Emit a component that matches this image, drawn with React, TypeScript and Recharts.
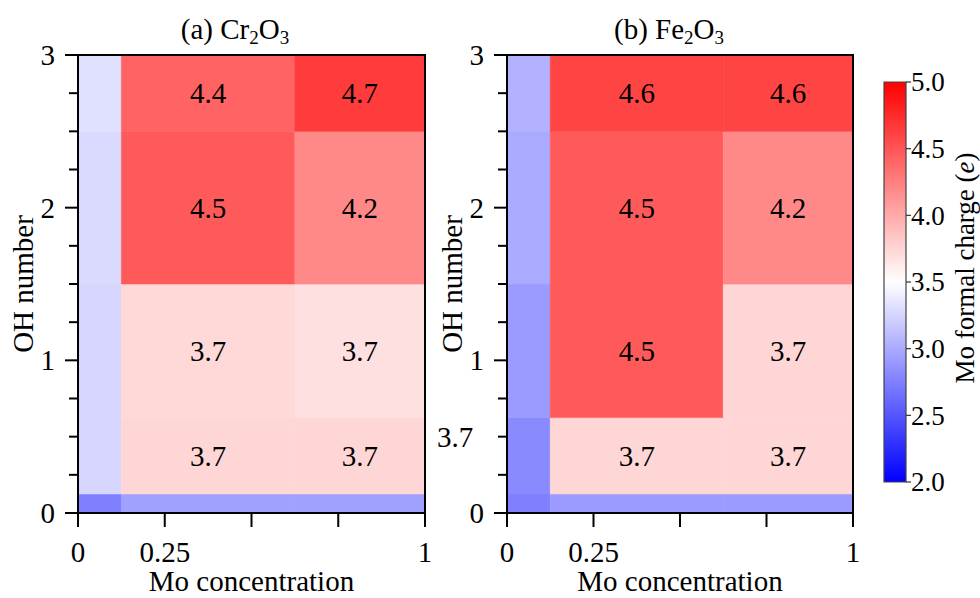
import React from 'react';
import { ComposedChart, XAxis, YAxis, ReferenceArea, ReferenceDot, Scatter, Label } from 'recharts';

const FONT = 'Liberation Serif';
const FS = 29;

// Axes / categories
const moConcentration = [0, 0.25, 1];
const ohNumber = [0, 0.25, 1, 2, 3];
const xTicks = [0, 0.25, 0.5, 0.75, 1];
const xTickLabels = ['0', '0.25', '', '', '1'];
const yTicks = [0, 0.25, 0.5, 0.75, 1, 1.25, 1.5, 1.75, 2, 2.25, 2.5, 2.75, 3];
const yTickLabels = ['0', '', '', '', '1', '', '', '', '2', '', '', '', '3'];

// Mo formal charge, Cr2O3 (one array per OH number, columns follow moConcentration)
const crOH0 = [2.75, 2.94, 2.94];
const crOH025 = [3.26, 3.74, 3.74];
const crOH1 = [3.26, 3.73, 3.68];
const crOH2 = [3.28, 4.47, 4.2];
const crOH3 = [3.32, 4.42, 4.65];

// Mo formal charge, Fe2O3
const feOH0 = [2.75, 2.91, 2.91];
const feOH025 = [2.81, 3.74, 3.74];
const feOH1 = [2.91, 4.47, 3.74];
const feOH2 = [3.0, 4.47, 4.2];
const feOH3 = [3.05, 4.6, 4.6];

// Colour bar
const colorbarTicks = [2, 2.5, 3, 3.5, 4, 4.5, 5];
const colorbarTickLabels = ['2.0', '2.5', '3.0', '3.5', '4.0', '4.5', '5.0'];
const colorMin = 2;
const colorMax = 5;

// Extra annotation in panel (b)
const feExtraLabel = { x: -0.15, y: 0.5, text: '3.7' };

function bwr(v: number): string {
  const t = Math.max(0, Math.min(1, (v - colorMin) / (colorMax - colorMin)));
  let r: number, g: number, b: number;
  if (t < 0.5) {
    r = g = Math.round(255 * t * 2);
    b = 255;
  } else {
    r = 255;
    g = b = Math.round(255 * (1 - t) * 2);
  }
  const h = (n: number) => n.toString(16).padStart(2, '0');
  return `#${h(r)}${h(g)}${h(b)}`;
}

function edges(centers: number[], lo: number, hi: number): number[] {
  const e = [lo];
  for (let i = 0; i < centers.length - 1; i++) e.push((centers[i] + centers[i + 1]) / 2);
  e.push(hi);
  return e;
}

const XTick = (props: any) => {
  const { x, y, payload } = props;
  const idx = xTicks.indexOf(payload.value);
  const text = idx >= 0 ? xTickLabels[idx] : '';
  return (
    <g>
      <line x1={x} x2={x} y1={y} y2={y + 14} stroke="#000" strokeWidth={2} />
      {text ? (
        <text x={x} y={y + 49} textAnchor="middle" fontSize={FS} fontFamily={FONT} fill="#000">
          {text}
        </text>
      ) : null}
    </g>
  );
};

const YTick = (props: any) => {
  const { x, y, payload } = props;
  const idx = yTicks.indexOf(payload.value);
  const text = idx >= 0 ? yTickLabels[idx] : '';
  const major = Number.isInteger(payload.value);
  return (
    <g>
      <line x1={x - (major ? 13 : 9)} x2={x} y1={y} y2={y} stroke="#000" strokeWidth={2} />
      {text ? (
        <text x={x - 23} y={y} dy="0.34em" textAnchor="end" fontSize={FS} fontFamily={FONT} fill="#000">
          {text}
        </text>
      ) : null}
    </g>
  );
};

const CbTick = (props: any) => {
  const { x, y, payload } = props;
  const idx = colorbarTicks.indexOf(payload.value);
  const text = idx >= 0 ? colorbarTickLabels[idx] : '';
  return (
    <g>
      <line x1={x} x2={x + 5} y1={y} y2={y} stroke="#333" strokeWidth={1.2} />
      <text x={x + 5} y={y} dy="0.34em" textAnchor="start" fontSize={27} fontFamily={FONT} fill="#000">
        {text}
      </text>
    </g>
  );
};

const XTitle = (props: any) => {
  const vb = props.viewBox || {};
  const cx = vb.x + vb.width / 2;
  return (
    <text x={cx} y={vb.y + 78} textAnchor="middle" fontSize={FS} fontFamily={FONT} fill="#000">
      Mo concentration
    </text>
  );
};

const YTitle = (props: any) => {
  const vb = props.viewBox || {};
  const x = vb.x + vb.width - 45;
  const cy = vb.y + vb.height / 2;
  return (
    <text x={x} y={cy} transform={`rotate(-90, ${x}, ${cy})`} textAnchor="middle" fontSize={FS} fontFamily={FONT} fill="#000">
      OH number
    </text>
  );
};

const CbTitle = (props: any) => {
  const vb = props.viewBox || {};
  const x = vb.x + 68;
  const cy = vb.y + vb.height / 2 - 14;
  return (
    <text x={x} y={cy} transform={`rotate(-90, ${x}, ${cy})`} textAnchor="middle" fontSize={27} fontFamily={FONT} fill="#000">
      Mo formal charge (<tspan fontStyle="italic">e</tspan>)
    </text>
  );
};

type PanelProps = {
  rows: number[][];
  left: number;
  marginLeft: number;
  marginRight: number;
  extra?: { x: number; y: number; text: string };
};

function Panel({ rows, left, marginLeft, marginRight, extra }: PanelProps) {
  const xe = edges(moConcentration, 0, 1);
  const ye = edges(ohNumber, 0, 3);
  const cells: any[] = [];
  const points: any[] = [];
  rows.forEach((row, i) =>
    row.forEach((v, j) => {
      cells.push({
        key: `${i}-${j}`,
        x1: xe[j],
        x2: xe[j + 1],
        y1: ye[i],
        y2: ye[i + 1],
        fill: bwr(v),
        label: i > 0 && j > 0 ? v.toFixed(1) : null,
      });
      points.push({ x: moConcentration[j], y: ohNumber[i] });
    })
  );
  return (
    <div style={{ position: 'absolute', left, top: 0 }}>
      <ComposedChart
        width={440}
        height={598}
        margin={{ top: 55, right: marginRight, bottom: 40, left: marginLeft }}
        data={points}
      >
        <XAxis
          type="number"
          dataKey="x"
          domain={[0, 1]}
          ticks={xTicks}
          interval={0}
          tick={(p: any) => <XTick {...p} />}
          tickSize={0}
          tickMargin={0}
          axisLine={false}
          tickLine={false}
          height={45}
          allowDataOverflow
        >
          <Label content={XTitle} />
        </XAxis>
        <YAxis
          type="number"
          dataKey="y"
          domain={[0, 3]}
          ticks={yTicks}
          interval={0}
          tick={(p: any) => <YTick {...p} />}
          tickSize={0}
          tickMargin={0}
          axisLine={false}
          tickLine={false}
          width={40}
          allowDataOverflow
        >
          <Label content={YTitle} />
        </YAxis>
        {cells.map((c) => (
          <ReferenceArea
            key={c.key}
            x1={c.x1}
            x2={c.x2}
            y1={c.y1}
            y2={c.y2}
            fill={c.fill}
            fillOpacity={1}
            stroke={c.fill}
            strokeWidth={0.6}
            label={
              c.label
                ? { value: c.label, position: 'center', fill: '#000', fontSize: FS, fontFamily: FONT }
                : undefined
            }
          />
        ))}
        <ReferenceArea x1={0} x2={1} y1={0} y2={3} fill="none" fillOpacity={0} stroke="#000" strokeWidth={2} />
        <Scatter data={points} fill="none" isAnimationActive={false} />
        {extra ? (
          <ReferenceDot
            x={extra.x}
            y={extra.y}
            r={0}
            fill="none"
            stroke="none"
            ifOverflow="visible"
            label={{ value: extra.text, position: 'center', fill: '#000', fontSize: FS, fontFamily: FONT }}
          />
        ) : null}
      </ComposedChart>
    </div>
  );
}

function Colorbar() {
  const data = [{ x: 0.5, v: 3.5 }];
  return (
    <div style={{ position: 'absolute', left: 860, top: 0 }}>
      <ComposedChart width={120} height={598} margin={{ top: 82, right: 24, bottom: 116, left: 24 }} data={data}>
        <defs>
          <linearGradient id="bwrGrad" x1="0" y1="1" x2="0" y2="0">
            {colorbarTicks.map((v) => (
              <stop key={v} offset={(v - colorMin) / (colorMax - colorMin)} stopColor={bwr(v)} />
            ))}
          </linearGradient>
        </defs>
        <XAxis type="number" dataKey="x" domain={[0, 1]} hide />
        <YAxis
          type="number"
          dataKey="v"
          orientation="right"
          domain={[colorMin, colorMax]}
          ticks={colorbarTicks}
          interval={0}
          tick={(p: any) => <CbTick {...p} />}
          tickSize={0}
          tickMargin={0}
          axisLine={false}
          tickLine={false}
          width={50}
        >
          <Label content={CbTitle} />
        </YAxis>
        <ReferenceArea
          x1={0}
          x2={1}
          y1={colorMin}
          y2={colorMax}
          fill="url(#bwrGrad)"
          fillOpacity={1}
          stroke="#444"
          strokeWidth={1.2}
        />
        <Scatter data={data} fill="none" isAnimationActive={false} />
      </ComposedChart>
    </div>
  );
}

function Titles() {
  return (
    <svg width={980} height={598} style={{ position: 'absolute', left: 0, top: 0, pointerEvents: 'none' }}>
      <text x={235} y={39} textAnchor="middle" fontSize={FS} fontFamily={FONT} fill="#000">
        (a) Cr<tspan fontSize={19} dy={5}>2</tspan>
        <tspan dy={-5}>O</tspan>
        <tspan fontSize={19} dy={5}>3</tspan>
      </text>
      <text x={669} y={39} textAnchor="middle" fontSize={FS} fontFamily={FONT} fill="#000">
        (b) Fe<tspan fontSize={19} dy={5}>2</tspan>
        <tspan dy={-5}>O</tspan>
        <tspan fontSize={19} dy={5}>3</tspan>
      </text>
    </svg>
  );
}

export default function App() {
  return (
    <div style={{ position: 'absolute', left: 0, top: 0, width: 980, height: 598, background: '#fff', overflow: 'hidden' }}>
      <Panel rows={[crOH0, crOH025, crOH1, crOH2, crOH3]} left={0} marginLeft={38} marginRight={15} />
      <Panel rows={[feOH0, feOH025, feOH1, feOH2, feOH3]} left={430} marginLeft={37} marginRight={17} extra={feExtraLabel} />
      <Colorbar />
      <Titles />
    </div>
  );
}
